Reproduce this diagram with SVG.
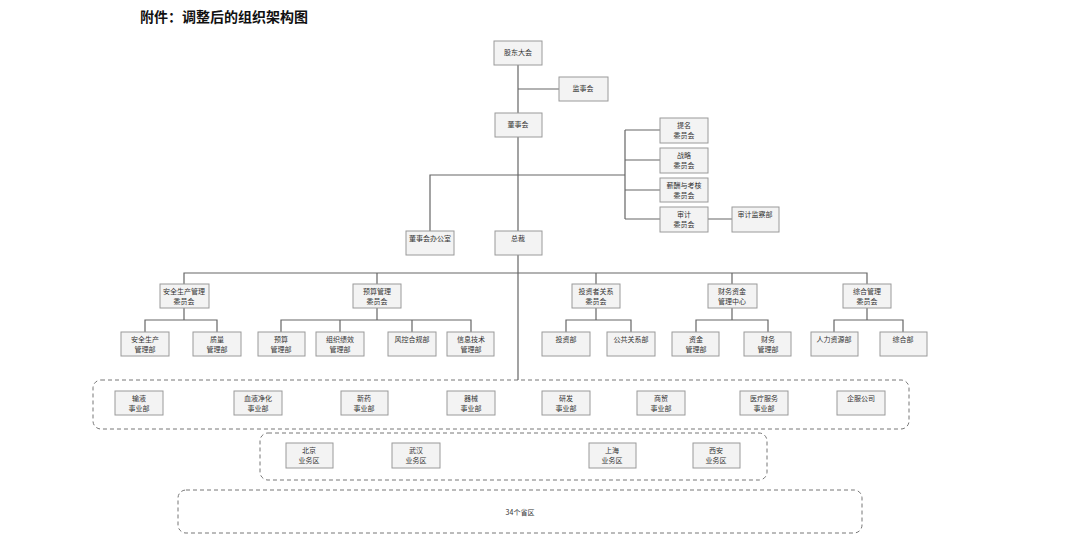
<svg xmlns="http://www.w3.org/2000/svg" width="1080" height="539" viewBox="0 0 1080 539">
<style>
.n rect{fill:#f3f3f3;stroke:#9a9a9a;stroke-width:1}
.n text{font-family:"Noto Sans CJK SC",sans-serif;font-size:7px;fill:#333;text-anchor:middle}
.c{stroke:#666;stroke-width:1.2;fill:none}
.d{fill:none;stroke:#777;stroke-width:1;stroke-dasharray:4 3}
</style>
<rect width="1080" height="539" fill="#fff"/>
<text x="140" y="22" font-family="'Noto Sans CJK SC',sans-serif" font-size="14" font-weight="bold" fill="#111">附件：调整后的组织架构图</text>
<g id="containers">
<rect class="d" x="93" y="380" width="816" height="49" rx="8"/>
<rect class="d" x="260" y="433" width="507" height="47" rx="8"/>
<rect class="d" x="178" y="490" width="684" height="43" rx="8"/>
</g>
<g id="connectors" class="c">
<path d="M518 65V380M518 89H559M430 231V175H625M625 130V219M625 130H660M625 160H660M625 190H660M625 219H660M708 219H732"/>
<path d="M184 284V273H867V284M377 273V284M596 273V284M732 273V284"/>
<path d="M184 308V320M145 332V320H217V332M377 308V320M281 332V320H471V332M340 320V332M412 320V332"/>
<path d="M596 308V320M566 332V320H631V332M732 308V320M696 332V320H768V332M867 308V320M834 332V320H903V332"/>
</g>
<g id="n1" class="n"><rect x="494" y="41" width="48" height="24"/><text x="518" y="55">股东大会</text></g>
<g id="n2" class="n"><rect x="559" y="77" width="49" height="24"/><text x="583" y="91">监事会</text></g>
<g id="n3" class="n"><rect x="495" y="113" width="47" height="24"/><text x="518" y="127">董事会</text></g>
<g id="n4" class="n"><rect x="660" y="118" width="48" height="25"/><text x="684" y="128">提名</text><text x="684" y="138">委员会</text></g>
<g id="n5" class="n"><rect x="660" y="148" width="48" height="25"/><text x="684" y="158">战略</text><text x="684" y="168">委员会</text></g>
<g id="n6" class="n"><rect x="660" y="178" width="48" height="24"/><text x="684" y="188">薪酬与考核</text><text x="684" y="198">委员会</text></g>
<g id="n7" class="n"><rect x="660" y="207" width="48" height="25"/><text x="684" y="217">审计</text><text x="684" y="227">委员会</text></g>
<g id="n8" class="n"><rect x="732" y="207" width="47" height="25"/><text x="755" y="217">审计监察部</text></g>
<g id="n9" class="n"><rect x="406" y="231" width="48" height="24"/><text x="430" y="241">董事会办公室</text></g>
<g id="n10" class="n"><rect x="495" y="231" width="47" height="24"/><text x="518" y="241">总裁</text></g>
<g id="n11" class="n"><rect x="160" y="284" width="49" height="24"/><text x="184" y="294">安全生产管理</text><text x="184" y="304">委员会</text></g>
<g id="n12" class="n"><rect x="353" y="284" width="48" height="24"/><text x="377" y="294">预算管理</text><text x="377" y="304">委员会</text></g>
<g id="n13" class="n"><rect x="572" y="284" width="48" height="24"/><text x="596" y="294">投资者关系</text><text x="596" y="304">委员会</text></g>
<g id="n14" class="n"><rect x="708" y="284" width="49" height="24"/><text x="732" y="294">财务资金</text><text x="732" y="304">管理中心</text></g>
<g id="n15" class="n"><rect x="843" y="284" width="48" height="24"/><text x="867" y="294">综合管理</text><text x="867" y="304">委员会</text></g>
<g id="n16" class="n"><rect x="121" y="332" width="48" height="24"/><text x="145" y="342">安全生产</text><text x="145" y="352">管理部</text></g>
<g id="n17" class="n"><rect x="193" y="332" width="48" height="24"/><text x="217" y="342">质量</text><text x="217" y="352">管理部</text></g>
<g id="n18" class="n"><rect x="258" y="332" width="47" height="24"/><text x="281" y="342">预算</text><text x="281" y="352">管理部</text></g>
<g id="n19" class="n"><rect x="316" y="332" width="48" height="24"/><text x="340" y="342">组织绩效</text><text x="340" y="352">管理部</text></g>
<g id="n20" class="n"><rect x="388" y="332" width="48" height="24"/><text x="412" y="342">风控合规部</text></g>
<g id="n21" class="n"><rect x="447" y="332" width="47" height="24"/><text x="471" y="342">信息技术</text><text x="471" y="352">管理部</text></g>
<g id="n22" class="n"><rect x="542" y="332" width="48" height="24"/><text x="566" y="342">投资部</text></g>
<g id="n23" class="n"><rect x="607" y="332" width="48" height="24"/><text x="631" y="342">公共关系部</text></g>
<g id="n24" class="n"><rect x="672" y="332" width="47" height="24"/><text x="696" y="342">资金</text><text x="696" y="352">管理部</text></g>
<g id="n25" class="n"><rect x="744" y="332" width="47" height="24"/><text x="768" y="342">财务</text><text x="768" y="352">管理部</text></g>
<g id="n26" class="n"><rect x="811" y="332" width="47" height="24"/><text x="834" y="342">人力资源部</text></g>
<g id="n27" class="n"><rect x="880" y="332" width="47" height="24"/><text x="903" y="342">综合部</text></g>
<g id="n28" class="n"><rect x="115" y="391" width="48" height="24"/><text x="139" y="401">输液</text><text x="139" y="411">事业部</text></g>
<g id="n29" class="n"><rect x="234" y="391" width="48" height="24"/><text x="258" y="401">血液净化</text><text x="258" y="411">事业部</text></g>
<g id="n30" class="n"><rect x="341" y="391" width="47" height="24"/><text x="364" y="401">新药</text><text x="364" y="411">事业部</text></g>
<g id="n31" class="n"><rect x="447" y="391" width="48" height="24"/><text x="471" y="401">器械</text><text x="471" y="411">事业部</text></g>
<g id="n32" class="n"><rect x="542" y="391" width="48" height="24"/><text x="566" y="401">研发</text><text x="566" y="411">事业部</text></g>
<g id="n33" class="n"><rect x="637" y="391" width="48" height="24"/><text x="661" y="401">商贸</text><text x="661" y="411">事业部</text></g>
<g id="n34" class="n"><rect x="740" y="391" width="48" height="24"/><text x="764" y="401">医疗服务</text><text x="764" y="411">事业部</text></g>
<g id="n35" class="n"><rect x="837" y="391" width="48" height="24"/><text x="861" y="401">企服公司</text></g>
<g id="n36" class="n"><rect x="286" y="443" width="47" height="25"/><text x="309" y="453">北京</text><text x="309" y="463">业务区</text></g>
<g id="n37" class="n"><rect x="392" y="443" width="48" height="25"/><text x="416" y="453">武汉</text><text x="416" y="463">业务区</text></g>
<g id="n38" class="n"><rect x="589" y="443" width="47" height="25"/><text x="612" y="453">上海</text><text x="612" y="463">业务区</text></g>
<g id="n39" class="n"><rect x="693" y="443" width="47" height="25"/><text x="716" y="453">西安</text><text x="716" y="463">业务区</text></g>
<g id="n40" class="n"><text x="520" y="515">34个省区</text></g>
</svg>
